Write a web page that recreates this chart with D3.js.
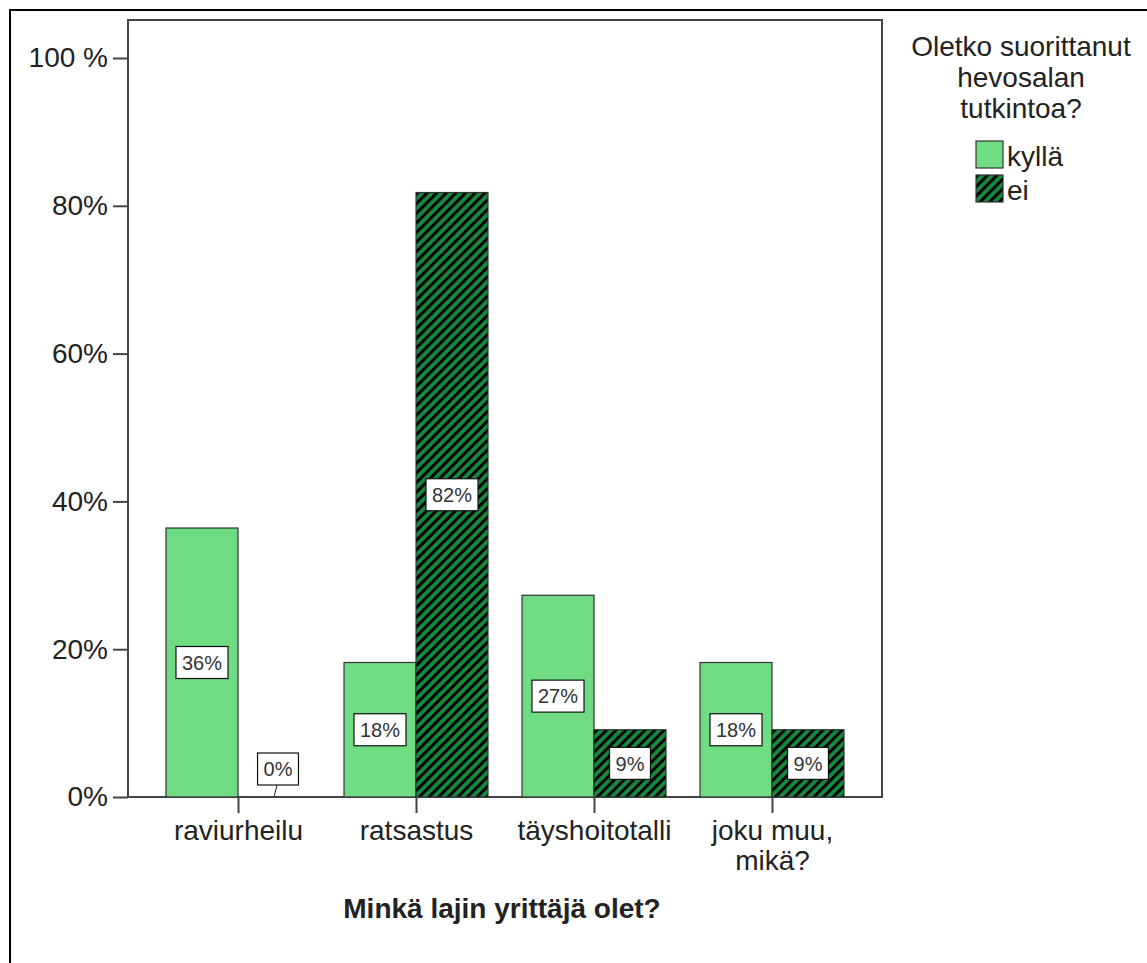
<!DOCTYPE html>
<html>
<head>
<meta charset="utf-8">
<script src="https://cdn.jsdelivr.net/npm/d3@7"></script>
<style>
  body { margin: 0; background: #fff; }
  text { font-family: "Liberation Sans", Arial, sans-serif; fill: #222; }
</style>
</head>
<body>
<div id="chart"></div>
<script>
// categories and the two series (percent of respondents)
let categories = ["raviurheilu", "ratsastus", "täyshoitotalli", "joku muu, mikä?"];
let seriesKeys = ["kyllä", "ei"];
let kyllaValues = [36.4, 18.2, 27.3, 18.2];
let eiValues = [0, 81.8, 9.1, 9.1];
let yTicks = [0, 20, 40, 60, 80, 100];
let yTickLabels = ["0%", "20%", "40%", "60%", "80%", "100 %"];
let legendTitle = ["Oletko suorittanut", "hevosalan", "tutkintoa?"];
let xTitle = "Minkä lajin yrittäjä olet?";

let width = 1147, height = 963;
let plot = {left: 128, right: 882, top: 20, bottom: 797};

let svg = d3.select("#chart").append("svg")
    .attr("width", width)
    .attr("height", height);

// hatch pattern for "ei"
let defs = svg.append("defs");
let pat = defs.append("pattern")
    .attr("id", "hatch")
    .attr("patternUnits", "userSpaceOnUse")
    .attr("width", 6.8)
    .attr("height", 6.8)
    .attr("patternTransform", "rotate(45)");
pat.append("rect").attr("width", 6.8).attr("height", 6.8).attr("fill", "#16893c");
pat.append("rect").attr("width", 3).attr("height", 6.8).attr("fill", "#000");

let fills = {"kyllä": "#6fdc84", "ei": "url(#hatch)"};

// outer frame
svg.append("path")
    .attr("d", "M10," + height + " V10 H" + width)
    .attr("fill", "none")
    .attr("stroke", "#000")
    .attr("stroke-width", 2);

// scales
let x = d3.scalePoint()
    .domain(categories)
    .range([plot.left, plot.right])
    .padding(0.618);
let barW = 72;
let xSub = d3.scaleBand().domain(seriesKeys).range([-barW, barW]);
let y = d3.scaleLinear().domain([0, 100]).range([plot.bottom, 58]);

// plot frame
svg.append("rect")
    .attr("x", plot.left)
    .attr("y", plot.top)
    .attr("width", plot.right - plot.left)
    .attr("height", plot.bottom - plot.top)
    .attr("fill", "none")
    .attr("stroke", "#444")
    .attr("stroke-width", 2);

// bars
let rows = categories.map((c, i) => ({cat: c, values: [
    {key: "kyllä", value: kyllaValues[i]},
    {key: "ei", value: eiValues[i]}
]}));

let groups = svg.selectAll(".grp")
    .data(rows)
    .enter().append("g")
    .attr("class", "grp")
    .attr("transform", d => "translate(" + x(d.cat) + ",0)");

groups.selectAll("rect")
    .data(d => d.values.filter(v => v.value > 0))
    .enter().append("rect")
    .attr("x", d => xSub(d.key))
    .attr("y", d => y(d.value))
    .attr("width", xSub.bandwidth())
    .attr("height", d => y(0) - y(d.value))
    .attr("fill", d => fills[d.key])
    .attr("stroke", "#333")
    .attr("stroke-width", 1.2);

// value labels
groups.each(function(d) {
    let g = d3.select(this);
    d.values.forEach(v => {
        let cx = xSub(v.key) + xSub.bandwidth() / 2;
        let cy = (y(v.value) + y(0)) / 2;
        let lab = g.append("g");
        if (v.value === 0) {
            cx += 4;
            cy = y(0) - 28;
            lab.append("line")
                .attr("x1", cx - 1).attr("y1", cy + 16)
                .attr("x2", cx - 4).attr("y2", y(0))
                .attr("stroke", "#222").attr("stroke-width", 1);
        }
        let box = lab.append("rect");
        let t = lab.append("text")
            .attr("x", cx)
            .attr("y", cy)
            .attr("dy", "0.36em")
            .attr("text-anchor", "middle")
            .style("font-size", "20px")
            .style("fill", "#333")
            .text(Math.round(v.value) + "%");
        let tw = t.node().getComputedTextLength();
        box.attr("x", cx - tw / 2 - 6)
            .attr("y", cy - 16)
            .attr("width", tw + 12)
            .attr("height", 32)
            .attr("fill", "#fff")
            .attr("stroke", "#111")
            .attr("stroke-width", 1.2);
    });
});

// y axis
let yAxis = svg.append("g")
    .attr("transform", "translate(" + plot.left + ",0)")
    .call(d3.axisLeft(y).tickValues(yTicks).tickSize(15).tickPadding(5)
        .tickFormat((d, i) => yTickLabels[i]));
yAxis.select(".domain").remove();
yAxis.selectAll(".tick line").attr("stroke", "#444").attr("stroke-width", 2);
yAxis.selectAll(".tick text")
    .style("font-size", "28px")
    .style("font-family", "'Liberation Sans', Arial, sans-serif")
    .attr("fill", "#333");

// x axis
let xAxis = svg.append("g")
    .attr("transform", "translate(0," + plot.bottom + ")")
    .call(d3.axisBottom(x).tickSize(16).tickFormat(""));
xAxis.select(".domain").remove();
xAxis.selectAll(".tick line").attr("stroke", "#444").attr("stroke-width", 2);
xAxis.selectAll(".tick").each(function(d) {
    let lines = d.indexOf(", ") >= 0 ? [d.split(", ")[0] + ",", d.split(", ")[1]] : [d];
    let t = d3.select(this).append("text")
        .attr("text-anchor", "middle")
        .attr("fill", "#222")
        .style("font-size", "28px")
        .style("font-family", "'Liberation Sans', Arial, sans-serif");
    lines.forEach((l, i) => {
        t.append("tspan").attr("x", 0).attr("y", 43 + i * 30).text(l);
    });
});

// x axis title
svg.append("text")
    .attr("x", 502)
    .attr("y", 918)
    .attr("text-anchor", "middle")
    .style("font-size", "28px")
    .style("font-weight", "bold")
    .text(xTitle);

// legend
let legendX = 1021;
svg.selectAll(".ltitle")
    .data(legendTitle)
    .enter().append("text")
    .attr("class", "ltitle")
    .attr("x", legendX)
    .attr("y", (d, i) => 56 + i * 31)
    .attr("text-anchor", "middle")
    .style("font-size", "28px")
    .text(d => d);

let legendItems = svg.selectAll(".litem")
    .data(seriesKeys)
    .enter().append("g")
    .attr("class", "litem")
    .attr("transform", (d, i) => "translate(976," + (141 + i * 34) + ")");
legendItems.append("rect")
    .attr("width", 27)
    .attr("height", 27)
    .attr("fill", d => fills[d])
    .attr("stroke", "#333")
    .attr("stroke-width", 1.2);
legendItems.append("text")
    .attr("x", 31)
    .attr("y", 25)
    .style("font-size", "28px")
    .text(d => d);
</script>
</body>
</html>
